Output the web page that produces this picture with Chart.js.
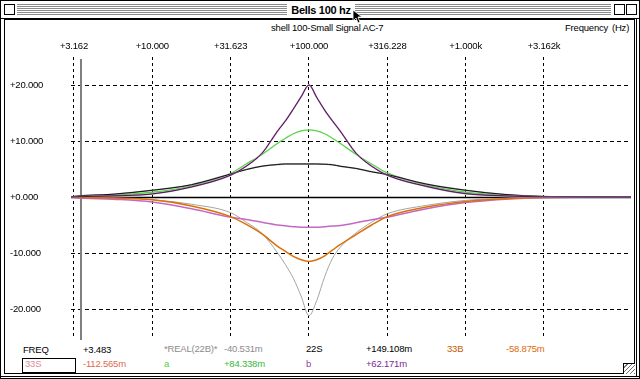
<!DOCTYPE html>
<html>
<head>
<meta charset="utf-8">
<script src="https://cdn.jsdelivr.net/npm/chart.js@4"></script>
<style>
  body { margin: 0; background: #fff; }
  #win { position: absolute; left: 0; top: 0; width: 638px; height: 377px; border: 1px solid #000; background: #fff; overflow: hidden;
         font-family: 'Liberation Sans', Arial, sans-serif; font-size: 9.5px; letter-spacing: -0.2px; }
  #titlebar { position: absolute; left: 0; top: 0; width: 638px; height: 17px; border-bottom: 1px solid #000; }
  .stripes { position: absolute; top: 3px; height: 12px;
             background: repeating-linear-gradient(to bottom, #8a8a8a 0 1px, #fff 1px 2px); }
  .box { position: absolute; top: 3px; width: 9px; height: 9px; border: 1px solid #000; background: #fff; }
  #title { position: absolute; left: 287px; top: 2px; width: 66px; text-align: center; font-weight: bold; font-size: 11px;
           line-height: 14px; letter-spacing: -0.3px; white-space: nowrap; background: #fff; }
  #panel { position: absolute; left: 3px; top: 18px; width: 629px; height: 353px; border: 1px solid #000; }
  #rightedge { position: absolute; left: 635px; top: 18px; width: 1px; height: 358px; background: #000; }
  #bottomedge { position: absolute; left: 0px; top: 375px; width: 638px; height: 1px; background: #000; }
  .t { position: absolute; line-height: 12px; white-space: nowrap; }
  #selbox { position: absolute; left: 21px; top: 357px; width: 52px; height: 13px; border: 1px solid #000; }
  #grow { position: absolute; left: 622px; top: 362px; width: 11px; height: 10px; border-left: 1px solid #000; border-top: 1px solid #000;
          background: repeating-linear-gradient(135deg, #fff 0 2px, #777 2px 3px); }
  canvas { position: absolute; left: 0; top: 0; }
</style>
</head>
<body>
<div id="win">
  <div id="titlebar">
    <div class="box" style="left:3px"></div>
    <div class="stripes" style="left:16px; width:270px"></div>
    <div class="stripes" style="left:354px; width:256px"></div>
    <div class="box" style="left:613px"></div>
    <div class="box" style="left:625px"></div>
    <div id="title">Bells 100 hz</div>
  </div>
  <div id="panel"></div>
  <div id="rightedge"></div>
  <div id="bottomedge"></div>
  <div class="t" style="left:270px; top:21px">shell 100-Small Signal AC-7</div>
  <div class="t" style="left:564px; top:21px">Frequency</div>
  <div class="t" style="left:611px; top:21px">(Hz)</div>

  <div class="t" style="left:22px; top:343px">FREQ</div>
  <div class="t" style="left:82px; top:343px">+3.483</div>
  <div class="t" style="left:163px; top:342px; color:#8c8c8c">*REAL(22B)*</div>
  <div class="t" style="left:223px; top:342px; color:#8c8c8c">-40.531m</div>
  <div class="t" style="left:305px; top:342px">22S</div>
  <div class="t" style="left:365px; top:342px">+149.108m</div>
  <div class="t" style="left:446px; top:342px; color:#c45c00">33B</div>
  <div class="t" style="left:505px; top:342px; color:#dc6c10">-58.875m</div>

  <div id="selbox"></div>
  <div class="t" style="left:24px; top:357px; color:#e08898">33S</div>
  <div class="t" style="left:82px; top:357px; color:#e06850">-112.565m</div>
  <div class="t" style="left:163px; top:357px; color:#50d050">a</div>
  <div class="t" style="left:223px; top:357px; color:#38b838">+84.338m</div>
  <div class="t" style="left:305px; top:357px; color:#9040a0">b</div>
  <div class="t" style="left:365px; top:357px; color:#7a2a90">+62.171m</div>
  <div id="grow"></div>

  <svg style="position:absolute; left:351px; top:8px" width="12" height="16">
    <polygon points="1,1 1,12 4,9 6,14 8,13 6,8 10,8" fill="#000" stroke="#fff" stroke-width="0.8"/>
  </svg>

  <canvas id="chart" width="640" height="379"></canvas>
</div>

<script>
// frequency points (Hz)
const freqs = [3.03, 3.16, 5.62, 10, 17.8, 31.6, 39.8, 50.1, 63.1, 70.8, 79.4, 89.1, 100,
               112, 126, 141, 158, 200, 251, 316, 562, 1000, 1780, 3160, 10000, 11360];

// response curves (dB)
const sharpBoost = [0, 0.03, 0.2, 0.55, 1.8, 3.9, 5.5, 7.8, 11.8, 13.6, 15.7, 17.9, 20.0,
                    17.8, 15.5, 13.6, 11.8, 7.8, 5.5, 3.9, 1.9, 0.6, 0.2, 0.03, 0, 0];
const midBoost   = [0, 0.05, 0.35, 0.85, 2.0, 4.2, 5.9, 7.6, 9.6, 10.5, 11.3, 11.8, 12.0,
                    11.8, 11.3, 10.5, 9.6, 7.6, 5.9, 4.3, 2.1, 0.85, 0.3, 0.08, 0, 0];
const wideBoost  = [0, 0.1, 0.5, 1.2, 2.2, 4.1, 4.9, 5.5, 5.8, 5.9, 5.9, 5.9, 5.9,
                    5.9, 5.85, 5.75, 5.5, 5.1, 4.5, 4.0, 2.3, 1.2, 0.45, 0.1, 0, 0];
const sharpCut   = [0, -0.05, -0.2, -0.5, -1.3, -2.8, -4.5, -6.5, -10.0, -12.1, -14.5, -17.7, -21.2,
                    -18.5, -14.2, -11.0, -9.0, -6.4, -4.5, -3.0, -1.5, -0.6, -0.2, -0.05, 0, 0];
const midCut     = [0, -0.05, -0.2, -0.5, -1.6, -3.5, -4.9, -6.6, -8.8, -9.7, -10.6, -11.2, -11.5,
                    -11.2, -10.5, -9.5, -8.5, -6.7, -5.0, -3.5, -1.8, -0.8, -0.3, -0.08, 0, 0];
const wideCut    = [0, -0.1, -0.4, -0.9, -2.1, -3.6, -4.0, -4.5, -5.0, -5.15, -5.3, -5.4, -5.4,
                    -5.4, -5.3, -5.2, -5.1, -4.6, -4.05, -3.6, -2.1, -1.0, -0.4, -0.1, 0, 0];

const xTicks = [3.162, 10, 31.623, 100, 316.228, 1000, 3162.28];
const xTickLabels = ['+3.162', '+10.000', '+31.623', '+100.000', '+316.228', '+1.000k', '+3.162k'];
const yTicks = [-20, -10, 0, 10, 20];
const yTickLabels = ['-20.000', '-10.000', '+0.000', '+10.000', '+20.000'];
const cursorFreq = 3.483;

const FONT = "'Liberation Sans', Arial, sans-serif";

function pts(vals) {
    return freqs.map((f, i) => ({x: f, y: vals[i]}));
}

// lower order = drawn on top
function line(label, vals, color, width, order) {
    return {
        label: label,
        data: pts(vals),
        borderColor: color,
        borderWidth: width,
        order: order,
        pointRadius: 0,
        cubicInterpolationMode: 'monotone',
        fill: false
    };
}

const markers = {
    id: 'markers',
    beforeDatasetsDraw(chart) {
        const {ctx, chartArea, scales} = chart;
        const y0 = Math.round(scales.y.getPixelForValue(0)) + 0.5;
        const xc = Math.round(scales.x.getPixelForValue(cursorFreq));
        ctx.save();
        ctx.strokeStyle = '#808080';
        ctx.lineWidth = 2;
        ctx.beginPath();
        ctx.moveTo(xc, chartArea.top + 2);
        ctx.lineTo(xc, chartArea.bottom + 3);
        ctx.stroke();
        ctx.strokeStyle = '#000';
        ctx.lineWidth = 1.5;
        ctx.beginPath();
        ctx.moveTo(chartArea.left, y0);
        ctx.lineTo(chartArea.right, y0);
        ctx.stroke();
        ctx.restore();
    }
};

new Chart(document.getElementById('chart'), {
    type: 'line',
    data: {
        datasets: [
            line('*REAL(22B)*', sharpCut, '#a4a4a4', 1, 8),
            line('33B', midCut, '#dc7008', 1.5, 6),
            line('33S', wideCut, '#c468c4', 1.5, 7),
            line('a', midBoost, '#58d448', 1.3, 5),
            line('b', sharpBoost, '#c070c8', 1.6, 2),
            line('22S', sharpBoost, '#000000', 0.7, 1),
            line('REAL', wideBoost, '#a0a0a0', 1.6, 4),
            line('22S', wideBoost, '#000000', 0.9, 3)
        ]
    },
    options: {
        responsive: false,
        animation: false,
        devicePixelRatio: 1,
        layout: { padding: { left: 9, right: 10, top: 30, bottom: 43 } },
        plugins: {
            legend: { display: false },
            tooltip: { enabled: false }
        },
        scales: {
            x: {
                type: 'logarithmic',
                position: 'top',
                min: 3.027,
                max: 11360,
                afterBuildTicks: (s) => { s.ticks = xTicks.map(v => ({value: v})); },
                afterFit: (s) => { s.height = 26; },
                grid: { color: '#000', lineWidth: 1, drawTicks: false },
                border: { display: false, dash: [3, 3] },
                ticks: {
                    autoSkip: false,
                    maxRotation: 0,
                    padding: 5,
                    color: '#000',
                    font: { family: FONT, size: 9.5 },
                    callback: (v, i) => xTickLabels[i]
                }
            },
            y: {
                min: -25,
                max: 25,
                afterBuildTicks: (s) => { s.ticks = yTicks.map(v => ({value: v})); },
                afterFit: (s) => { s.width = 61; },
                grid: { color: '#000', lineWidth: 1, drawTicks: false },
                border: { display: false, dash: [4, 3] },
                ticks: {
                    crossAlign: 'far',
                    padding: 0,
                    color: '#000',
                    font: { family: FONT, size: 9.5 },
                    callback: (v, i) => yTickLabels[i]
                }
            }
        }
    },
    plugins: [markers]
});
</script>
</body>
</html>
